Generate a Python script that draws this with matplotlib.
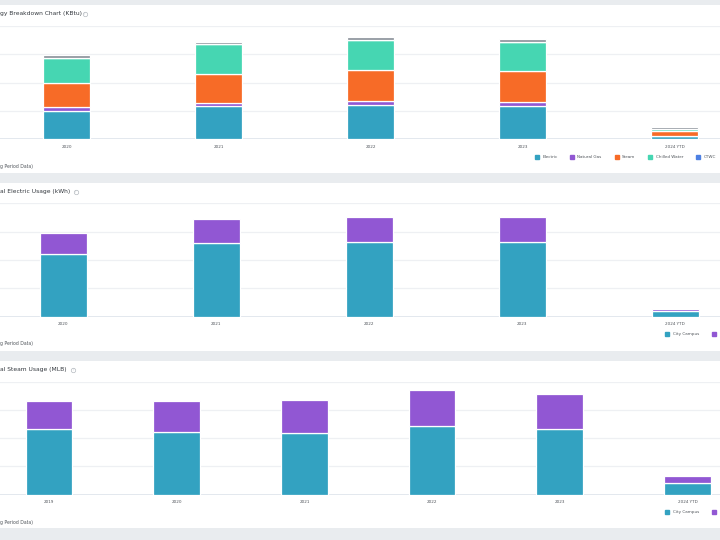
import matplotlib.pyplot as plt
import numpy as np
from matplotlib.lines import Line2D
from matplotlib.patches import Rectangle

W, H = 720, 540

### DATA (in gridline units) ###
years_energy = ['2020', '2021', '2022', '2023', '2024 YTD']
electric = [1.00, 1.16, 1.19, 1.18, 0.10]
natural_gas = [0.13, 0.12, 0.16, 0.14, 0.02]
steam = [0.85, 1.03, 1.11, 1.07, 0.18]
chilled_water = [0.88, 1.05, 1.04, 1.06, 0.04]
ctwc = [0.0, 0.0, 0.0, 0.0, 0.0]
other = [0.10, 0.09, 0.12, 0.09, 0.08]

years_elec = ['2020', '2021', '2022', '2023', '2024 YTD']
elec_campus = [2.21, 2.59, 2.64, 2.62, 0.20]
elec_other = [0.74, 0.85, 0.89, 0.88, 0.07]

years_steam = ['2019', '2020', '2021', '2022', '2023', '2024 YTD']
steam_campus = [2.32, 2.22, 2.20, 2.43, 2.32, 0.43]
steam_other = [1.00, 1.08, 1.16, 1.29, 1.24, 0.23]

# titles / footers as far as they are visible in the cropped dashboard
titles = ['gy Breakdown Chart (KBtu)', 'al Electric Usage (kWh)', 'al Steam Usage (MLB)']
footer_text = 'g Period Data)'

TEAL = '#33a2c1'
PURPLE = '#9157d3'
ORANGE = '#f76b27'
MINT = '#46d6b2'
BLUE = '#4d80e3'
GREY = '#8e959d'


def fx(x):
    return x / W


def fy(y):
    return 1 - y / H


fig = plt.figure(figsize=(7.2, 5.4), dpi=100)
fig.patch.set_facecolor('#e9ecef')

# white cards
for top, bottom in [(5, 173), (183, 351), (361, 528)]:
    fig.add_artist(Rectangle((fx(-5), fy(bottom)), fx(730), (bottom - top) / H,
                             transform=fig.transFigure, facecolor='white',
                             edgecolor='none', zorder=0))


def make_axes(top, bottom, first_center, spacing, n):
    ax = fig.add_axes([0, fy(bottom), 1, (bottom - top) / H])
    ax.set_facecolor('none')
    ax.set_xlim(-first_center / spacing, (W - first_center) / spacing)
    ax.set_ylim(0, 4)
    ax.set_yticks([0, 1, 2, 3, 4])
    ax.yaxis.grid(True, color='#eef0f3', lw=0.9)
    ax.set_axisbelow(True)
    for s in ax.spines.values():
        s.set_visible(False)
    ax.axhline(0, color='#dfe4eb', lw=1.2, zorder=1)
    ax.tick_params(axis='y', left=False, labelleft=False)
    ax.tick_params(axis='x', length=0, pad=4, labelsize=3, labelcolor='#50555b')
    ax.set_xticks(range(n))
    return ax


def stack(ax, series, colors, width):
    x = np.arange(len(series[0]))
    bottom = np.zeros(len(x))
    for vals, c in zip(series, colors):
        ax.bar(x, vals, width, bottom=bottom, color=c, edgecolor='white',
               linewidth=0.9, zorder=2)
        bottom += np.array(vals)


def title(text, x_end, y):
    fig.text(fx(0.5), fy(y), text, ha='left', va='center', fontsize=4.3,
             color='#33383e')
    fig.add_artist(Line2D([fx(x_end + 5)], [fy(y)], marker='o', ms=3.2,
                          mfc='none', mec='#b5bac0', mew=0.5,
                          transform=fig.transFigure))
    fig.text(fx(x_end + 5), fy(y), '?', ha='center', va='center',
             fontsize=2, color='#b5bac0')


def footer(y):
    fig.text(fx(0.5), fy(y), footer_text, ha='left', va='center',
             fontsize=3.3, color='#50555b')


def legend(items, y):
    for x, label, c in items:
        fig.add_artist(Line2D([fx(x)], [fy(y)], marker='s', ms=3.4, color=c,
                              transform=fig.transFigure))
        if label:
            fig.text(fx(x + 5.5), fy(y), label, ha='left', va='center',
                     fontsize=3, color='#50555b')


### PANEL 1 : energy breakdown ###
ax1 = make_axes(26, 139, 66.5, 152, len(years_energy))
stack(ax1, [electric, natural_gas, steam, chilled_water, ctwc, other],
      [TEAL, PURPLE, ORANGE, MINT, BLUE, GREY], 0.31)
ax1.set_xticklabels(years_energy)
title(titles[0], 80, 14)
footer(166.7)
legend([(536.7, 'Electric', TEAL), (571.7, 'Natural Gas', PURPLE),
        (616.7, 'Steam', ORANGE), (650, 'Chilled Water', MINT),
        (698.3, 'CTWC', BLUE)], 156.7)

### PANEL 2 : electric usage ###
ax2 = make_axes(203.3, 316.7, 63.3, 153, len(years_elec))
stack(ax2, [elec_campus, elec_other], [TEAL, PURPLE], 0.305)
ax2.set_xticklabels(years_elec)
title(titles[1], 70.5, 191.7)
footer(343.3)
legend([(667.3, 'City Campus', TEAL), (714.3, None, PURPLE)], 334.3)

### PANEL 3 : steam usage ###
ax3 = make_axes(381.7, 494.7, 49, 127.7, len(years_steam))
stack(ax3, [steam_campus, steam_other], [TEAL, PURPLE], 0.366)
ax3.set_xticklabels(years_steam)
title(titles[2], 68.3, 369.7)
footer(522.3)
legend([(667.3, 'City Campus', TEAL), (714.3, None, PURPLE)], 512.3)

fig.savefig('out.png', dpi=100, facecolor=fig.get_facecolor())
